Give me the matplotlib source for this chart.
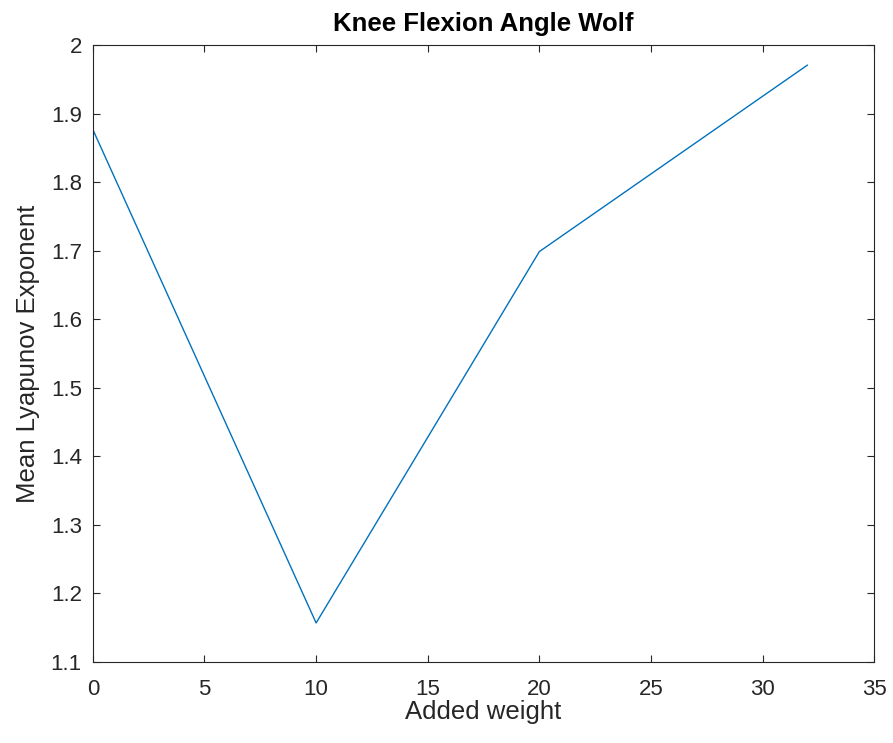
import matplotlib
matplotlib.use("Agg")
import matplotlib.pyplot as plt

plt.rcParams['font.family'] = ['Liberation Sans', 'DejaVu Sans']

# added weight vs. mean Lyapunov exponent
added_weight = [0, 10, 20, 32]
lyapunov = [1.877, 1.157, 1.699, 1.971]

fig = plt.figure(figsize=(8.93, 7.43), dpi=100)
ax = fig.add_axes([0.104, 0.109, 0.875, 0.830])

ax.plot(added_weight, lyapunov, color='#0072BD', linewidth=1.0)

ax.set_xlim(0, 35)
ax.set_ylim(1.1, 2.0)
ax.set_xticks([0, 5, 10, 15, 20, 25, 30, 35])
ax.set_yticks([1.1, 1.2, 1.3, 1.4, 1.5, 1.6, 1.7, 1.8, 1.9, 2.0])
ax.set_yticklabels(['1.1', '1.2', '1.3', '1.4', '1.5', '1.6', '1.7', '1.8', '1.9', '2'])

ax.tick_params(direction='in', top=True, right=True, length=5, width=0.8,
               labelsize=16, colors='#262626')
ax.tick_params(axis='y', pad=8)
ax.tick_params(axis='x', pad=12)
for s in ax.spines.values():
    s.set_color('#262626')
    s.set_linewidth(0.8)

ax.set_title('Knee Flexion Angle Wolf', fontsize=18.5, fontweight='bold', color='black', pad=10)
ax.set_xlabel('Added weight', fontsize=18.5, color='#262626', labelpad=0)
ax.set_ylabel('Mean Lyapunov Exponent', fontsize=18.5, color='#262626', labelpad=8)

fig.savefig('out.png', dpi=100, facecolor='white')
